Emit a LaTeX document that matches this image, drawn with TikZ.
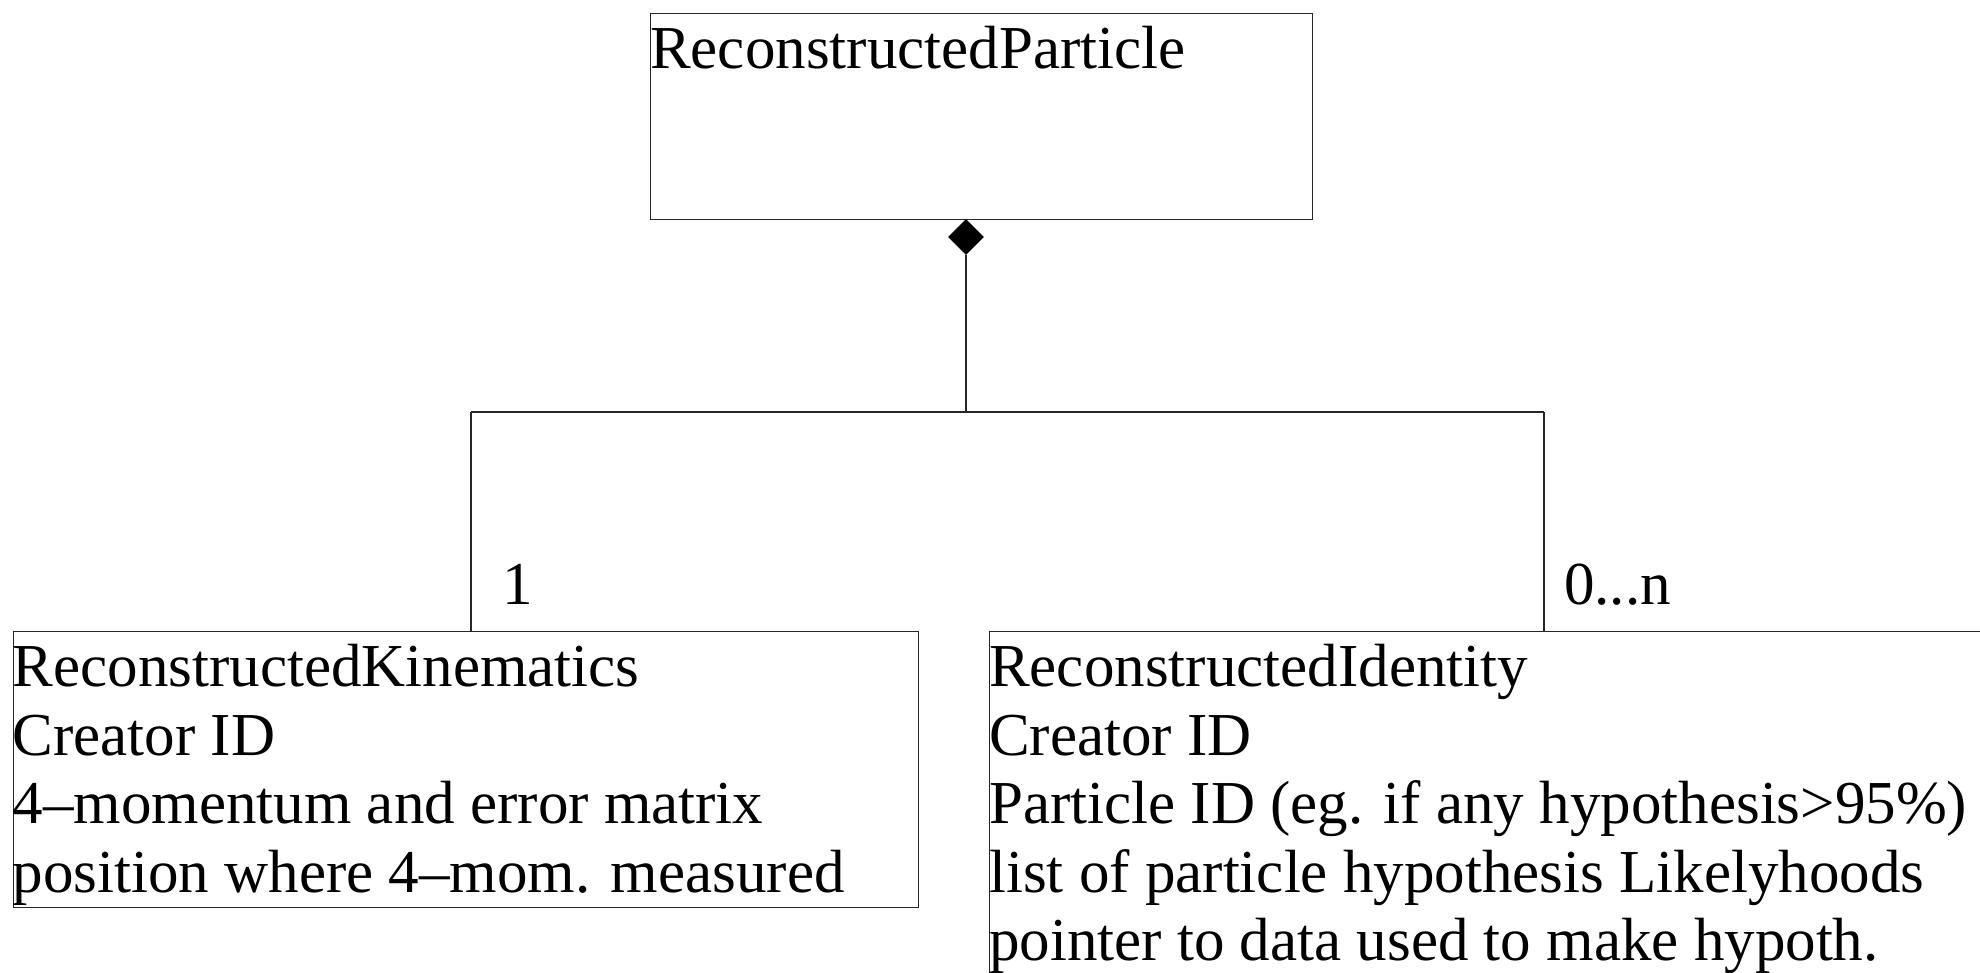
\documentclass[tikz,border=0pt]{standalone}
\usepackage{fontspec}
\setmainfont{Liberation Serif}
\usetikzlibrary{shapes.geometric}
\begin{document}
\begin{tikzpicture}[x=1pt,y=-1pt,
  box/.style={draw=black!85,line width=1.1pt,rectangle,inner sep=0pt,anchor=north west},
  txt/.style={inner sep=0pt,anchor=north west,align=left,font=\fontsize{61}{68.6}\selectfont},
  mult/.style={inner sep=0pt,anchor=base west,font=\fontsize{61}{68.6}\selectfont},
  link/.style={draw=black!85,line width=1.1pt}]
\useasboundingbox (0,0) rectangle (1980,972);
\clip (0,0) rectangle (1980,972);
\fill[white] (0,0) rectangle (1980,972);
% boxes
\node[box,minimum width=662pt,minimum height=206pt] (rp) at (650,12.6) {};
\node[box,minimum width=905pt,minimum height=276pt] (rk) at (12.6,631) {};
\node[box,minimum width=1200pt,minimum height=500pt] (ri) at (989,631) {};
% texts
\node[txt] (rpt) at ([yshift=-13pt]rp.north west) {ReconstructedParticle};
\node[txt] (rkt) at ([yshift=-13pt]rk.north west) {ReconstructedKinematics\\Creator ID\\4–momentum and error matrix\\position where 4–mom. measured};
\node[txt] (rit) at ([yshift=-13pt]ri.north west) {ReconstructedIdentity\\Creator ID\\Particle ID (eg. if any hypothesis>95\%)\\list of particle hypothesis Likelyhoods\\pointer to data used to make hypoth.};
% composition diamond
\node[diamond,fill=black,draw=none,inner sep=0pt,minimum width=36pt,minimum height=36pt] (dia) at (966,237) {};
\coordinate (j) at (966,412);
\coordinate (jl) at (471,412);
\coordinate (jr) at (1544,412);
\draw[link] (dia.south) -- (j);
\draw[link] (jl) -- (jr);
\draw[link] (jl) -- (jl |- rk.north);
\draw[link] (jr) -- (jr |- ri.north);
% multiplicities
\node[mult] (m1) at (502,604) {1};
\node[mult] (mn) at (1564,604) {0...n};
\end{tikzpicture}
\end{document}
